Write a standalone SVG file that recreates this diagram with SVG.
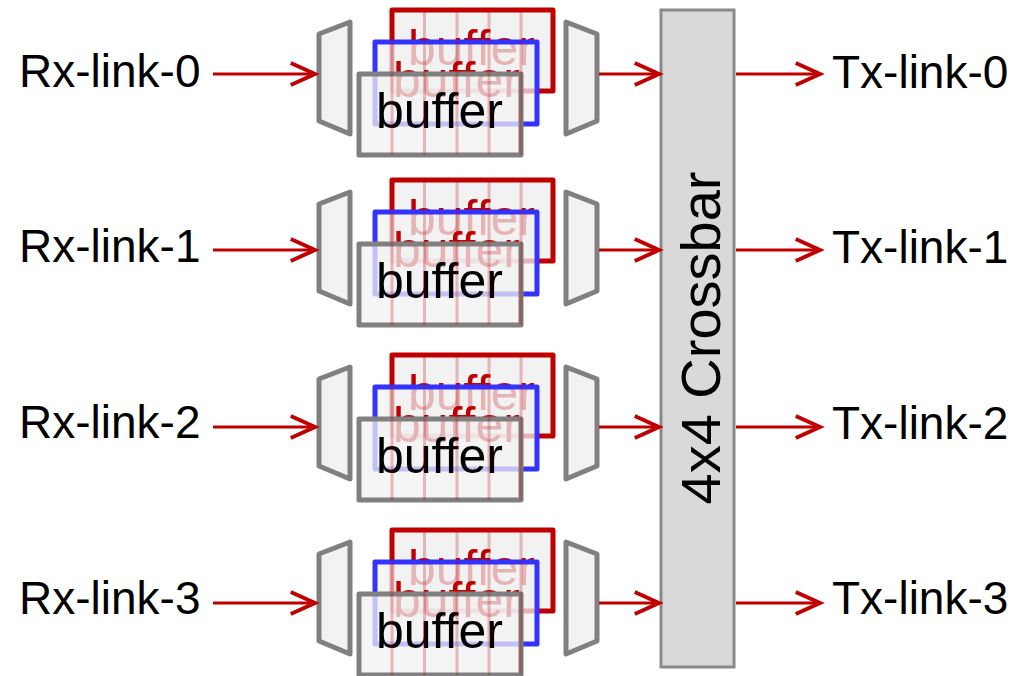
<svg xmlns="http://www.w3.org/2000/svg" width="1017" height="676" viewBox="0 0 1017 676">
<defs>
<style>
.lbl{font-family:"Liberation Sans",Arial,sans-serif;font-size:46px;fill:#000}
.buf{font-family:"Liberation Sans",Arial,sans-serif;font-size:50px}
.trap{fill:#f2f2f2;stroke:#808080;stroke-width:5;stroke-linejoin:round}
.rred{fill:#f2f2f2;stroke:#c00000;stroke-width:5;stroke-linejoin:round}
.rblue{fill:#f2f2f2;fill-opacity:.75;stroke:#3333ff;stroke-width:5;stroke-linejoin:round}
.rgray{fill:#f2f2f2;fill-opacity:.75;stroke:#808080;stroke-width:5;stroke-linejoin:round}
.grid{stroke:#c00000;stroke-opacity:.25;stroke-width:3}
.conn{stroke:#c00000;stroke-width:3.2;fill:none}
.xbar{fill:#d9d9d9;stroke:#8a8a8a;stroke-width:3}
</style>
<marker id="arr" markerUnits="userSpaceOnUse" markerWidth="30" markerHeight="30" viewBox="-24 -12 26 24" refX="0" refY="0" orient="auto" overflow="visible">
<path d="M-21,-9.5 L0,0 L-21,9.5" fill="none" stroke="#c00000" stroke-width="3.4" stroke-linejoin="miter"/>
</marker>
<g id="bufstack">
<rect class="rred" x="392" y="10" width="161" height="81"/>
<text class="buf" x="408" y="65" fill="#c00000">buffer</text>
<rect class="rblue" x="375" y="42" width="162" height="82"/>
<text class="buf" x="393" y="97" fill="#c00000">buffer</text>
<rect class="rgray" x="359" y="74" width="162" height="81"/>
<text class="buf" x="376" y="128" fill="#000">buffer</text>
<path class="grid" d="M392,10V155M424.5,10V155M457,10V155M489,10V155M521,10V155"/>
</g>
</defs>

<g id="rx-labels">
<g id="rx0"><text class="lbl" x="19" y="87">Rx-link-0</text></g>
<g id="rx1"><text class="lbl" x="19" y="262">Rx-link-1</text></g>
<g id="rx2"><text class="lbl" x="19" y="438">Rx-link-2</text></g>
<g id="rx3"><text class="lbl" x="19" y="614">Rx-link-3</text></g>
</g>

<g id="row0">
<g id="demux0"><polygon class="trap" points="319,34 350,22 350,134 319,121"/></g>
<g id="buffers0"><use href="#bufstack"/></g>
<g id="mux0"><polygon class="trap" points="566,22 597,34 597,121 566,134"/></g>
</g>
<g id="row1" transform="translate(0,170)">
<g id="demux1"><polygon class="trap" points="319,34 350,22 350,134 319,121"/></g>
<g id="buffers1"><use href="#bufstack"/></g>
<g id="mux1"><polygon class="trap" points="566,22 597,34 597,121 566,134"/></g>
</g>
<g id="row2" transform="translate(0,345)">
<g id="demux2"><polygon class="trap" points="319,34 350,22 350,134 319,121"/></g>
<g id="buffers2"><use href="#bufstack"/></g>
<g id="mux2"><polygon class="trap" points="566,22 597,34 597,121 566,134"/></g>
</g>
<g id="row3" transform="translate(0,520)">
<g id="demux3"><polygon class="trap" points="319,34 350,22 350,134 319,121"/></g>
<g id="buffers3"><use href="#bufstack"/></g>
<g id="mux3"><polygon class="trap" points="566,22 597,34 597,121 566,134"/></g>
</g>

<g id="crossbar">
<rect class="xbar" x="661" y="10" width="73" height="657"/>
<text class="lbl" style="font-size:56px" transform="translate(720,338) rotate(-90)" text-anchor="middle">4x4 Crossbar</text>
</g>

<g id="tx-labels">
<g id="tx0"><text class="lbl" x="832" y="88">Tx-link-0</text></g>
<g id="tx1"><text class="lbl" x="832" y="263">Tx-link-1</text></g>
<g id="tx2"><text class="lbl" x="832" y="439">Tx-link-2</text></g>
<g id="tx3"><text class="lbl" x="832" y="614">Tx-link-3</text></g>
</g>

<g id="connectors">
<line class="conn" x1="213" y1="74" x2="315" y2="74" marker-end="url(#arr)"/>
<line class="conn" x1="213" y1="250" x2="315" y2="250" marker-end="url(#arr)"/>
<line class="conn" x1="213" y1="427" x2="315" y2="427" marker-end="url(#arr)"/>
<line class="conn" x1="213" y1="603" x2="315" y2="603" marker-end="url(#arr)"/>
<line class="conn" x1="599" y1="74" x2="659" y2="74" marker-end="url(#arr)"/>
<line class="conn" x1="599" y1="250" x2="659" y2="250" marker-end="url(#arr)"/>
<line class="conn" x1="599" y1="427" x2="659" y2="427" marker-end="url(#arr)"/>
<line class="conn" x1="599" y1="603" x2="659" y2="603" marker-end="url(#arr)"/>
<line class="conn" x1="736" y1="74" x2="820" y2="74" marker-end="url(#arr)"/>
<line class="conn" x1="736" y1="250" x2="820" y2="250" marker-end="url(#arr)"/>
<line class="conn" x1="736" y1="427" x2="820" y2="427" marker-end="url(#arr)"/>
<line class="conn" x1="736" y1="603" x2="820" y2="603" marker-end="url(#arr)"/>
</g>
</svg>
